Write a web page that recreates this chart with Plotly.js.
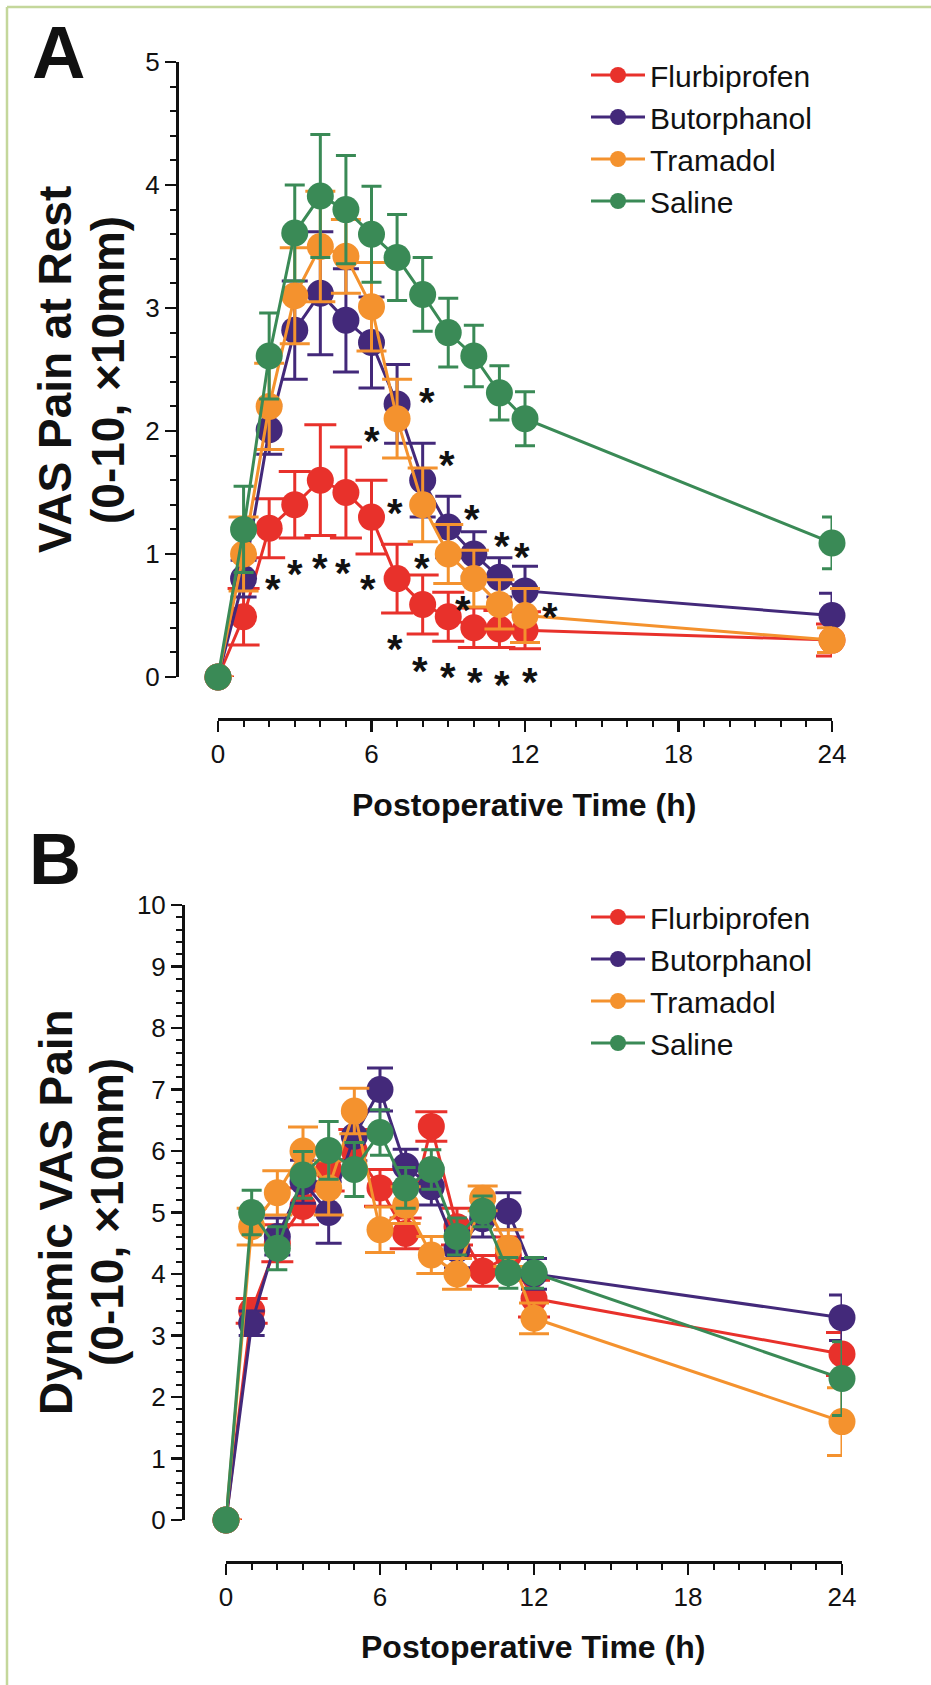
<!DOCTYPE html>
<html>
<head>
<meta charset="utf-8">
<script src="https://cdn.plot.ly/plotly-3.0.1.min.js"></script>
<style>
  html, body { margin: 0; padding: 0; background: #ffffff; }
  #chart { width: 931px; height: 1685px; }
</style>
</head>
<body>
<div id="chart"></div>
<script>
// ---------- data ----------
const times = [0, 1, 2, 3, 4, 5, 6, 7, 8, 9, 10, 11, 12, 24];
const seriesNames = ["Flurbiprofen", "Butorphanol", "Tramadol", "Saline"];

// Panel A: VAS pain at rest
const restFlurbiprofen = [0, 0.49, 1.21, 1.40, 1.60, 1.50, 1.30, 0.80, 0.59, 0.49, 0.40, 0.39, 0.38, 0.30];
const restFlurbiprofenErr = [0, 0.23, 0.24, 0.27, 0.45, 0.37, 0.30, 0.28, 0.24, 0.20, 0.16, 0.15, 0.15, 0.13];
const restButorphanol = [0, 0.80, 2.01, 2.82, 3.12, 2.90, 2.72, 2.22, 1.60, 1.22, 1.00, 0.81, 0.70, 0.50];
const restButorphanolErr = [0, 0.15, 0.20, 0.40, 0.50, 0.42, 0.37, 0.32, 0.30, 0.25, 0.18, 0.16, 0.20, 0.18];
const restTramadol = [0, 1.00, 2.20, 3.10, 3.50, 3.42, 3.01, 2.10, 1.40, 1.00, 0.80, 0.59, 0.50, 0.30];
const restTramadolErr = [0, 0.30, 0.35, 0.39, 0.45, 0.30, 0.36, 0.32, 0.30, 0.24, 0.23, 0.20, 0.22, 0.10];
const restSaline = [0, 1.20, 2.61, 3.61, 3.91, 3.80, 3.60, 3.41, 3.11, 2.80, 2.61, 2.31, 2.10, 1.09];
const restSalineErr = [0, 0.35, 0.35, 0.39, 0.50, 0.44, 0.39, 0.35, 0.30, 0.28, 0.25, 0.22, 0.22, 0.21];

// significance asterisks in panel A (time, value where the star sits)
const starX = [8.16, 6.0, 8.94, 6.9, 9.91, 11.12, 11.9, 2.14, 3.0, 3.98, 4.88, 5.85, 7.96, 9.56, 12.96, 6.9, 7.88, 8.98, 10.03, 11.09, 12.18];
const starY = [2.31, 1.99, 1.80, 1.41, 1.36, 1.14, 1.05, 0.79, 0.91, 0.96, 0.92, 0.79, 0.96, 0.62, 0.56, 0.30, 0.12, 0.07, 0.03, 0.01, 0.03];

// Panel B: dynamic VAS pain
const dynFlurbiprofen = [0, 3.40, 4.50, 5.10, 5.70, 6.00, 5.40, 4.66, 6.40, 4.77, 4.05, 4.30, 3.60, 2.70];
const dynFlurbiprofenErr = [0, 0.20, 0.30, 0.30, 0.35, 0.35, 0.30, 0.25, 0.24, 0.30, 0.25, 0.30, 0.30, 0.35];
const dynButorphanol = [0, 3.20, 4.61, 5.50, 5.00, 6.24, 7.00, 5.75, 5.42, 4.40, 4.90, 5.02, 4.00, 3.29];
const dynButorphanolErr = [0, 0.20, 0.30, 0.35, 0.50, 0.40, 0.35, 0.28, 0.30, 0.30, 0.30, 0.30, 0.25, 0.37];
const dynTramadol = [0, 4.77, 5.32, 6.00, 5.40, 6.65, 4.72, 5.12, 4.31, 4.00, 5.23, 4.42, 3.28, 1.60];
const dynTramadolErr = [0, 0.30, 0.36, 0.39, 0.44, 0.37, 0.37, 0.30, 0.30, 0.25, 0.20, 0.30, 0.25, 0.55];
const dynSaline = [0, 5.00, 4.42, 5.61, 6.01, 5.70, 6.30, 5.40, 5.70, 4.61, 5.02, 4.02, 4.02, 2.30];
const dynSalineErr = [0, 0.36, 0.35, 0.38, 0.47, 0.44, 0.37, 0.33, 0.32, 0.30, 0.25, 0.25, 0.25, 0.60];

const xTickVals = [0, 6, 12, 18, 24];

// ---------- style ----------
const colors = ["#e8312b", "#43297a", "#f4922e", "#3a8a56"];
const capHalf = [16, 13, 15, 10];
const FONT = "Liberation Sans, Arial, Helvetica, sans-serif";
const W = 931, H = 1685;
const px = v => v / W;          // horizontal pixel -> paper
const py = v => 1 - v / H;      // vertical pixel -> paper

function mkTrace(i, y, err, xa, ya, legendName) {
  return {
    type: "scatter", mode: "lines+markers",
    x: times, y: y, name: seriesNames[i],
    xaxis: xa, yaxis: ya, legend: legendName,
    legendgroup: legendName + i, showlegend: true,
    cliponaxis: false,
    line: { color: colors[i], width: 3 },
    marker: { color: colors[i], size: 27, line: { width: 0 } },
    error_y: { type: "data", array: err, visible: true, color: colors[i], thickness: 3, width: capHalf[i] }
  };
}

const traces = [
  mkTrace(0, restFlurbiprofen, restFlurbiprofenErr, "x", "y", "legend"),
  mkTrace(1, restButorphanol, restButorphanolErr, "x", "y", "legend"),
  mkTrace(2, restTramadol, restTramadolErr, "x", "y", "legend"),
  mkTrace(3, restSaline, restSalineErr, "x", "y", "legend"),
  mkTrace(0, dynFlurbiprofen, dynFlurbiprofenErr, "x2", "y2", "legend2"),
  mkTrace(1, dynButorphanol, dynButorphanolErr, "x2", "y2", "legend2"),
  mkTrace(2, dynTramadol, dynTramadolErr, "x2", "y2", "legend2"),
  mkTrace(3, dynSaline, dynSalineErr, "x2", "y2", "legend2")
];

function axisBase() {
  return {
    showgrid: false, zeroline: false, showline: true,
    linecolor: "#111", linewidth: 2.5,
    ticks: "outside", ticklen: 11, tickwidth: 2.5, tickcolor: "#111",
    tickfont: { family: FONT, size: 26, color: "#111" },
    fixedrange: true
  };
}

const xA = Object.assign(axisBase(), {
  domain: [px(218), px(832)], range: [0, 24], tickvals: xTickVals,
  anchor: "free", position: py(719),
  minor: { dtick: 1, ticklen: 6, tickwidth: 2, tickcolor: "#111", ticks: "outside", showgrid: false }
});
const yA = Object.assign(axisBase(), {
  domain: [py(677), py(62)], range: [0, 5], dtick: 1,
  anchor: "free", position: px(177),
  minor: { dtick: 0.2, ticklen: 6, tickwidth: 2, tickcolor: "#111", ticks: "outside", showgrid: false }
});
const xB = Object.assign(axisBase(), {
  domain: [px(226), px(842)], range: [0, 24], tickvals: xTickVals,
  anchor: "free", position: py(1562),
  minor: { dtick: 1, ticklen: 6, tickwidth: 2, tickcolor: "#111", ticks: "outside", showgrid: false }
});
const yB = Object.assign(axisBase(), {
  domain: [py(1520), py(905)], range: [0, 10], dtick: 1,
  anchor: "free", position: px(183),
  minor: { dtick: 0.2, ticklen: 6, tickwidth: 2, tickcolor: "#111", ticks: "outside", showgrid: false }
});

const annotations = [];
function addText(text, x, y, size, bold, angle) {
  annotations.push({
    xref: "paper", yref: "paper", x: x, y: y, text: bold ? "<b>" + text + "</b>" : text,
    showarrow: false, textangle: angle || 0, xanchor: "center", yanchor: "middle",
    font: { family: FONT, size: size, color: "#111" }
  });
}
addText("A", px(58), py(52), 74, true);
addText("B", px(55), py(859), 72, true);
addText("Postoperative Time (h)", px(524), py(805), 32, true);
addText("Postoperative Time (h)", px(533), py(1647), 32, true);
addText("VAS Pain at Rest", px(55), py(370), 46, true, -90);
addText("(0-10, ×10mm)", px(108), py(370), 46, true, -90);
addText("Dynamic VAS Pain", px(56), py(1212), 46, true, -90);
addText("(0-10, ×10mm)", px(107), py(1212), 46, true, -90);

for (let i = 0; i < starX.length; i++) {
  annotations.push({
    xref: "x", yref: "y", x: starX[i], y: starY[i], text: "<b>*</b>",
    showarrow: false, xanchor: "center", yanchor: "middle", yshift: -9,
    font: { family: FONT, size: 40, color: "#111" }
  });
}

function legendBase(top) {
  return {
    x: px(586), y: py(top), xanchor: "left", yanchor: "top",
    bgcolor: "rgba(0,0,0,0)", borderwidth: 0,
    font: { family: FONT, size: 30, color: "#111" },
    tracegroupgap: 10, itemwidth: 54, traceorder: "normal"
  };
}

const layout = {
  width: W, height: H, autosize: false,
  margin: { l: 0, r: 0, t: 0, b: 0, pad: 0 },
  paper_bgcolor: "#ffffff", plot_bgcolor: "#ffffff",
  showlegend: true,
  xaxis: xA, yaxis: yA, xaxis2: xB, yaxis2: yB,
  legend: legendBase(49),
  legend2: legendBase(891),
  annotations: annotations,
  shapes: [
    { type: "line", xref: "paper", yref: "paper", x0: px(7), x1: 1, y0: py(7), y1: py(7), line: { color: "#c4d79b", width: 2.5 } },
    { type: "line", xref: "paper", yref: "paper", x0: px(7), x1: px(7), y0: py(7), y1: 0, line: { color: "#c4d79b", width: 2.5 } }
  ]
};

Plotly.newPlot("chart", traces, layout, { staticPlot: true, displayModeBar: false });
</script>
</body>
</html>
